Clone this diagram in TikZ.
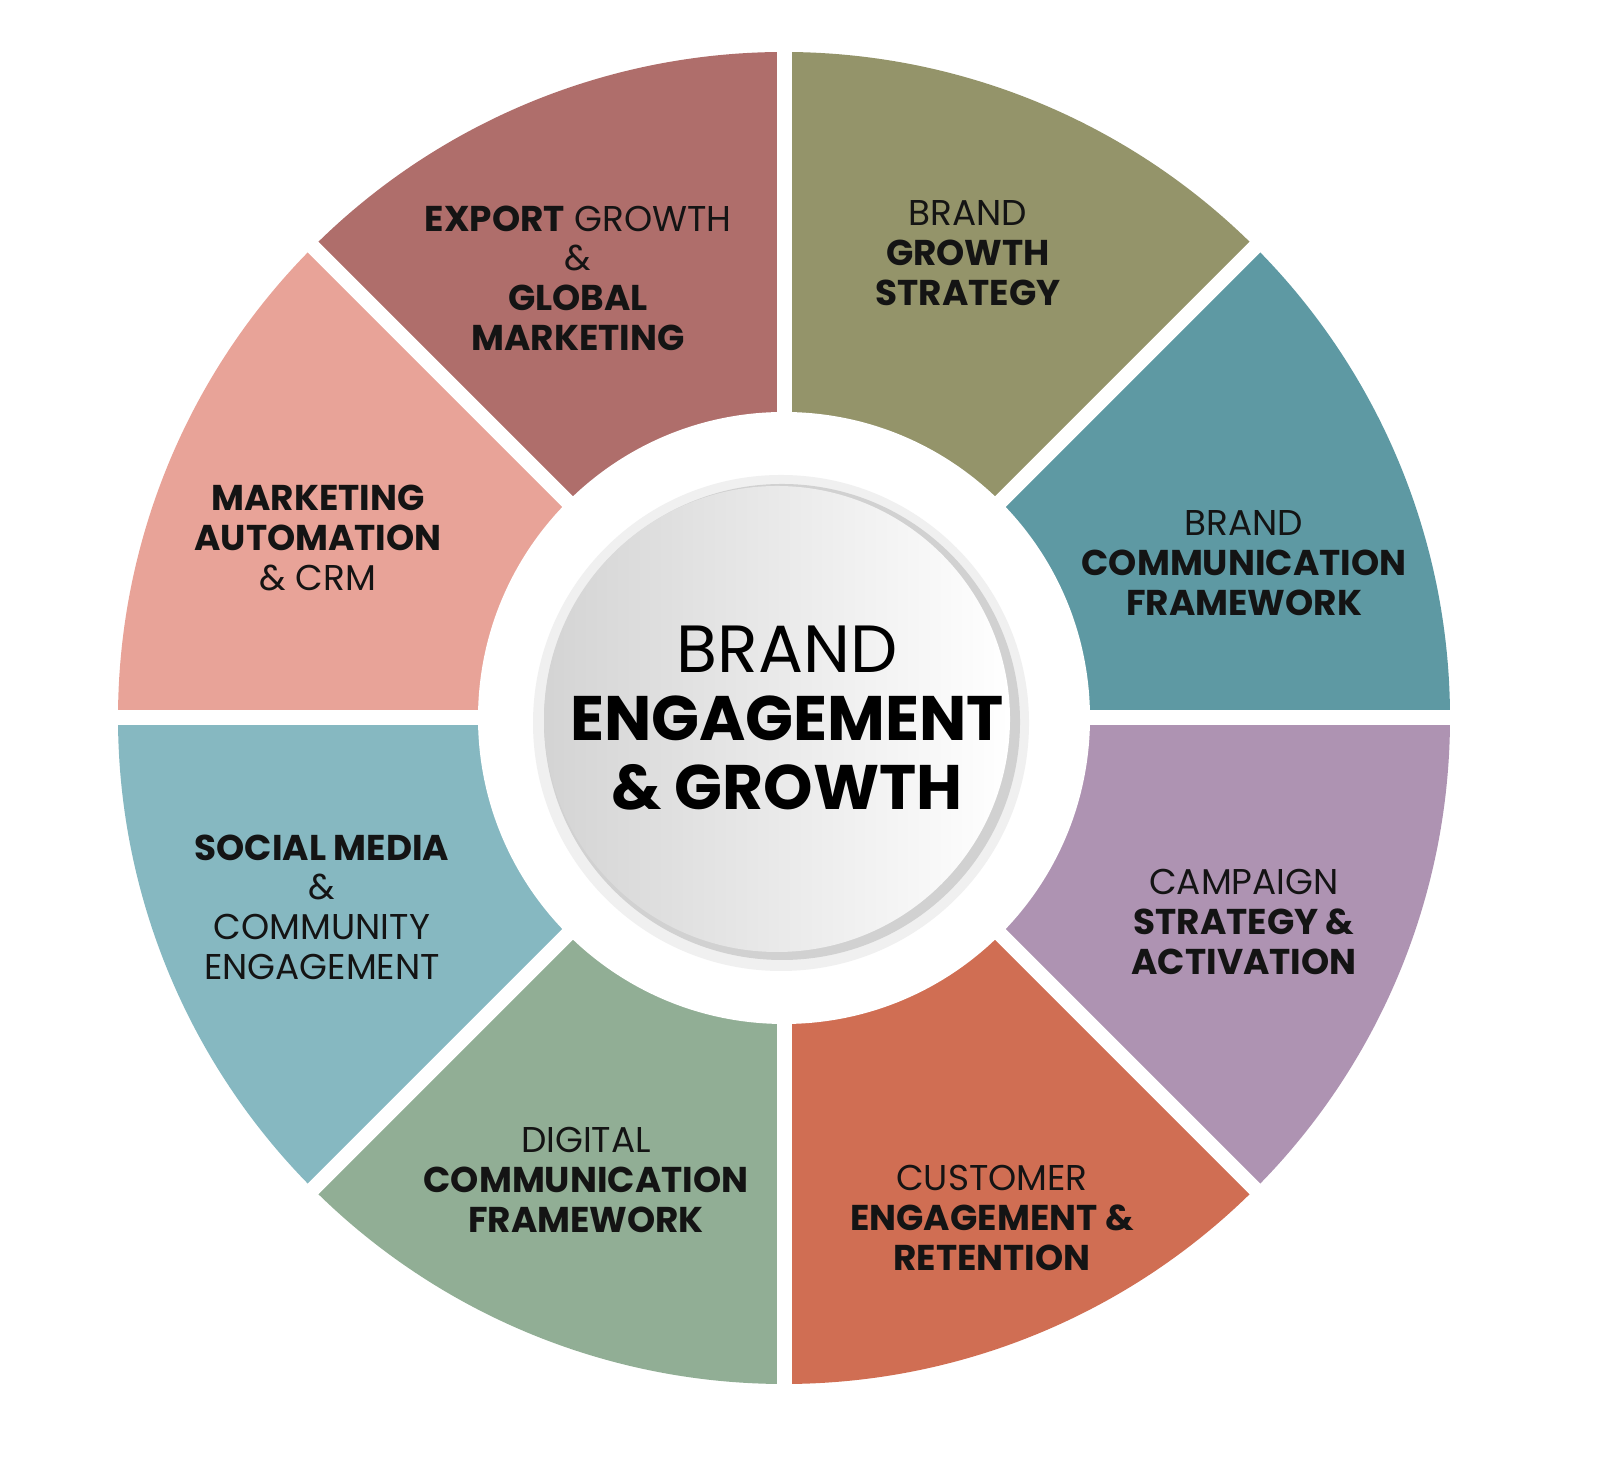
\documentclass[tikz,border=0pt]{standalone}
\usepackage{fontspec}
\setmainfont{Poppins}
\usetikzlibrary{positioning}
\definecolor{olive}{HTML}{94946A}
\definecolor{tealc}{HTML}{5E99A3}
\definecolor{lilac}{HTML}{AE93B2}
\definecolor{rust}{HTML}{D06E53}
\definecolor{sage}{HTML}{91AE95}
\definecolor{sky}{HTML}{86B8C1}
\definecolor{blush}{HTML}{E8A398}
\definecolor{mauve}{HTML}{AF6E6B}
\tikzset{%
	sector text/.style={
		align=center,
		font=\fontsize{10.2}{11.3}\selectfont,
		text=black!92
	},
}
\begin{document}
\begin{tikzpicture}
				\coordinate (C) at (7.84,7.49);
				% Sectors
				\foreach \a/\col in {45/olive,0/tealc,-45/lilac,-90/rust,-135/sage,-180/sky,135/blush,90/mauve}
				{
					\fill[\col] (C) -- ++(\a:6.66) arc[start angle=\a, delta angle=45, radius=6.66] -- cycle;
				}
				% Gaps
				\foreach \a in {0,45,90,135}
				{
					\draw[white, line width=0.15cm] (C) ++(\a:6.8) -- ++(\a+180:13.6);
				}
				\fill[white] (C) circle (3.06);
				% Hub
				\fill[black!6] (7.81,7.44) circle (2.48);
				\fill[black!18] (7.82,7.45) circle (2.38);
				\shade[left color=black!17, right color=white] (7.77,7.48) circle (2.33);
				% Labels
				\node[sector text] (Growth) at (9.68,12.14) {BRAND\\\textbf{GROWTH}\\\textbf{STRATEGY}};
				\node[sector text] (Comm) at (12.44,9.04) {BRAND\\\textbf{COMMUNICATION}\\\textbf{FRAMEWORK}};
				\node[sector text] (Campaign) at (12.44,5.45) {CAMPAIGN\\\textbf{STRATEGY \&}\\\textbf{ACTIVATION}};
				\node[sector text] (Customer) at (9.92,2.49) {CUSTOMER\\\textbf{ENGAGEMENT \&}\\\textbf{RETENTION}};
				\node[sector text] (Digital) at (5.86,2.87) {DIGITAL\\\textbf{COMMUNICATION}\\\textbf{FRAMEWORK}};
				\node[sector text] (Social) at (3.22,5.60) {\textbf{SOCIAL MEDIA}\\\&\\COMMUNITY\\ENGAGEMENT};
				\node[sector text] (Automation) at (3.18,9.29) {\textbf{MARKETING}\\\textbf{AUTOMATION}\\\& CRM};
				\node[sector text] (Export) at (5.78,11.89) {\textbf{EXPORT} GROWTH\\\&\\\textbf{GLOBAL}\\\textbf{MARKETING}};
				\node[align=center, text=black, font=\fontsize{19}{19.4}\selectfont] (Hub) at (7.87,7.49)
				{BRAND\\{\fontsize{17.9}{19.4}\selectfont\textbf{ENGAGEMENT}}\\{\fontsize{17.9}{19.4}\selectfont\textbf{\& GROWTH}}};
				\pgfresetboundingbox
				\useasboundingbox (0,0) rectangle (16,14.67);
\end{tikzpicture}
\end{document}
